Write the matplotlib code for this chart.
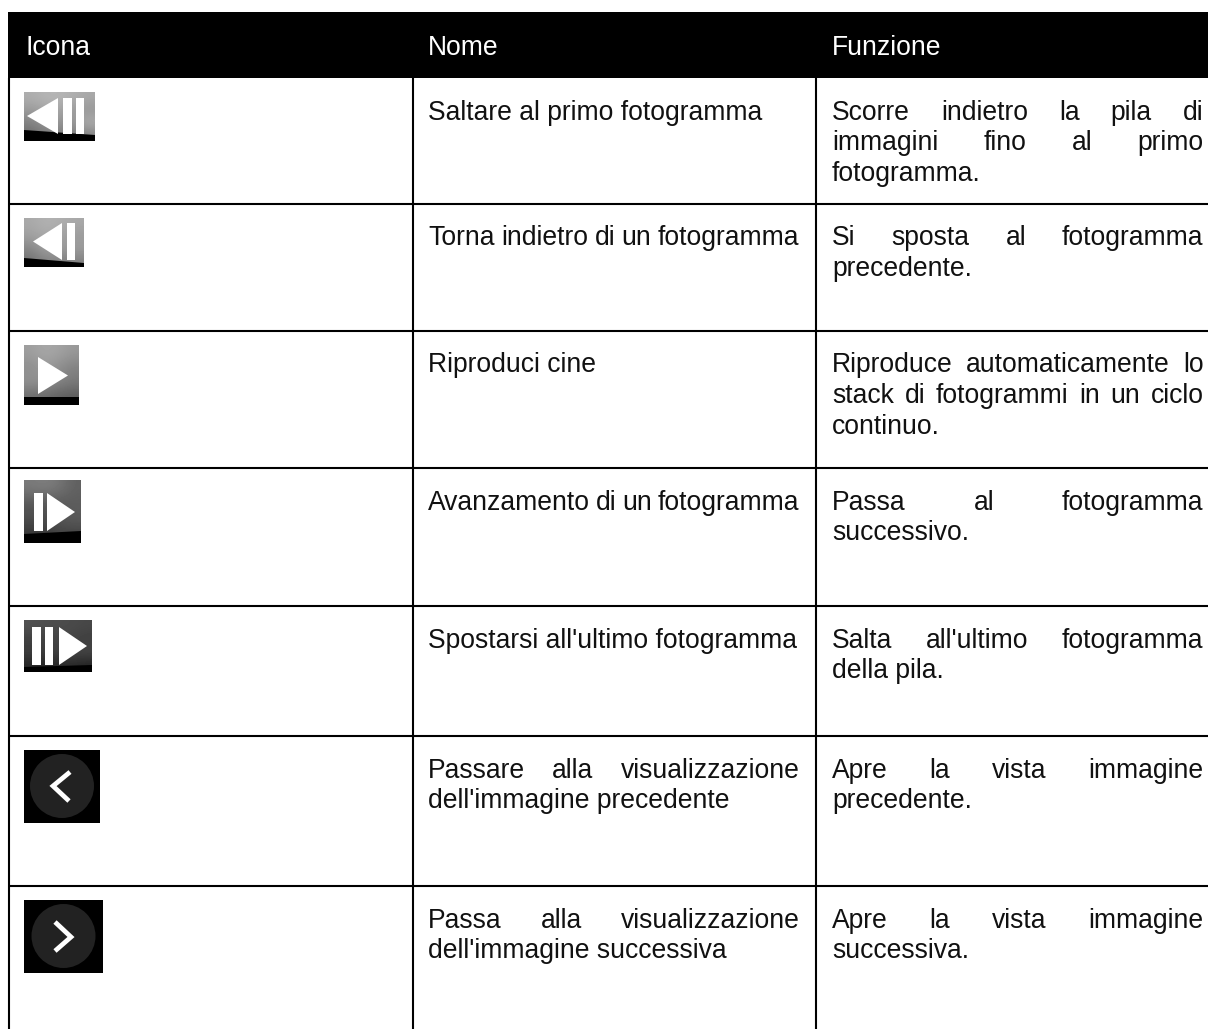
import matplotlib
matplotlib.use("Agg")
import matplotlib.pyplot as plt
import numpy as np
from matplotlib.patches import Circle, Polygon, Rectangle

plt.rcParams["font.family"] = ["Liberation Sans", "DejaVu Sans"]

W, H = 1208, 1029

headers = ["Icona", "Nome", "Funzione"]
icon_kinds = ["first", "prev", "play", "next", "last", "left", "right"]
names = [
    [("Saltare al primo fotogramma", False)],
    [("Torna indietro di un fotogramma", True)],
    [("Riproduci cine", False)],
    [("Avanzamento di un fotogramma", True)],
    [("Spostarsi all'ultimo fotogramma", False)],
    [("Passare alla visualizzazione", True), ("dell'immagine precedente", False)],
    [("Passa alla visualizzazione", True), ("dell'immagine successiva", False)],
]
functions = [
    [("Scorre indietro la pila di", True), ("immagini fino al primo", True), ("fotogramma.", False)],
    [("Si sposta al fotogramma", True), ("precedente.", False)],
    [("Riproduce automaticamente lo", True), ("stack di fotogrammi in un ciclo", True), ("continuo.", False)],
    [("Passa al fotogramma", True), ("successivo.", False)],
    [("Salta all'ultimo fotogramma", True), ("della pila.", False)],
    [("Apre la vista immagine", True), ("precedente.", False)],
    [("Apre la vista immagine", True), ("successiva.", False)],
]

# rough grey levels of the icon photos, top row first
shade_first = [[0.68, 0.72, 0.70, 0.66], [0.60, 0.66, 0.62, 0.58], [0.50, 0.62, 0.55, 0.70], [0.42, 0.50, 0.48, 0.50]]
shade_prev = [[0.66, 0.70, 0.68, 0.66], [0.62, 0.66, 0.62, 0.60], [0.52, 0.64, 0.60, 0.62], [0.44, 0.52, 0.50, 0.50]]
shade_play = [[0.62, 0.66, 0.64, 0.60], [0.55, 0.60, 0.56, 0.50], [0.58, 0.56, 0.52, 0.48], [0.40, 0.40, 0.36, 0.34]]
shade_next = [[0.48, 0.50, 0.46, 0.38], [0.34, 0.33, 0.34, 0.36], [0.30, 0.30, 0.34, 0.36], [0.20, 0.22, 0.25, 0.25]]
shade_last = [[0.32, 0.30, 0.30, 0.28], [0.24, 0.26, 0.27, 0.24], [0.24, 0.24, 0.28, 0.28], [0.14, 0.14, 0.16, 0.12]]

row_lines = [78, 203.5, 331, 468, 606, 736, 886, 1029]
col_lines = [9, 413, 816]
name_box = (428, 799.5)
func_box = (832, 1203.5)
FS = 19.1
LINE = 30.7

fig = plt.figure(figsize=(W / 100, H / 100), dpi=100)
ax = fig.add_axes([0, 0, 1, 1])
ax.set_xlim(0, W)
ax.set_ylim(H, 0)
ax.axis("off")
renderer = fig.canvas.get_renderer()


def put_line(text, x0, x1, y, justify):
    if not justify:
        ax.text(x0, y, text, fontsize=FS, color="#111111", va="baseline")
        return
    words = text.split()
    widths = []
    for w in words:
        t = ax.text(0, 0, w, fontsize=FS)
        widths.append(t.get_window_extent(renderer).width)
        t.remove()
    gap = (x1 - x0 - sum(widths)) / (len(words) - 1)
    x = x0
    for w, wd in zip(words, widths):
        ax.text(x, y, w, fontsize=FS, color="#111111", va="baseline")
        x += wd + gap


def bars_tri(box, shade, strip, tip, base, tri_y, bars):
    x0, y0, x1, y1 = box
    ax.imshow(np.array(shade), cmap="gray", vmin=0, vmax=1, extent=(x0, x1, y1, y0),
              aspect="auto", interpolation="bicubic", zorder=2)
    ax.set_xlim(0, W)
    ax.set_ylim(H, 0)
    ax.add_patch(Polygon([(x0, strip[0]), (x1, strip[1]), (x1, y1), (x0, y1)], fc="black", ec="none", zorder=3))
    mid = (tri_y[0] + tri_y[1]) / 2
    ax.add_patch(Polygon([(tip, mid), (base, tri_y[0]), (base, tri_y[1])], fc="white", ec="none", zorder=4))
    for a, b in bars:
        ax.add_patch(Rectangle((a, tri_y[0]), b - a, tri_y[1] - tri_y[0], fc="white", ec="none", zorder=4))


def draw_icon(kind):
    if kind == "first":
        bars_tri((24, 92, 95, 141), shade_first, (130, 135), 27, 58, (98, 134), [(63, 72), (76, 84)])
    elif kind == "prev":
        bars_tri((24, 218, 84, 267), shade_prev, (258, 263), 33, 62, (223, 260), [(67, 75)])
    elif kind == "play":
        bars_tri((24, 345, 79, 405), shade_play, (397, 397), 68, 38, (357, 394), [])
    elif kind == "next":
        bars_tri((24, 480, 81, 543), shade_next, (534, 531), 75, 47, (493, 531), [(34, 43)])
    elif kind == "last":
        bars_tri((24, 620, 92, 672), shade_last, (667, 665), 87, 59, (627, 665), [(32, 41), (45, 53)])
    else:
        if kind == "left":
            box, cx, cy = (24, 750, 100, 823), 62, 786
            pts = [(70, 772), (53, 786), (69, 801)]
        else:
            box, cx, cy = (24, 900, 103, 973), 63.5, 936
            pts = [(55, 922), (71, 937), (55, 951)]
        ax.add_patch(Rectangle(box[:2], box[2] - box[0], box[3] - box[1], fc="black", ec="none", zorder=2))
        ax.add_patch(Circle((cx, cy), 32, fc="#222222", ec="none", zorder=3))
        xs, ys = zip(*pts)
        ax.plot(xs, ys, color="white", lw=3.4, solid_capstyle="butt", solid_joinstyle="miter", zorder=4)


# table frame
ax.add_patch(Rectangle((8, 12), W - 8, 66, fc="black", ec="none", zorder=5))
for y in row_lines[1:-1]:
    ax.plot([8, W], [y, y], color="black", lw=1.5, solid_capstyle="butt")
for x in col_lines:
    ax.plot([x, x], [78, H], color="black", lw=1.5, solid_capstyle="butt")

for h, x in zip(headers, [25, 428, 832]):
    ax.text(x, 55, h, fontsize=FS, color="white", va="baseline", zorder=6)

for i, kind in enumerate(icon_kinds):
    draw_icon(kind)
    base_y = row_lines[i] + 41.5
    for j, (txt, just) in enumerate(names[i]):
        put_line(txt, name_box[0], name_box[1], base_y + j * LINE, just)
    for j, (txt, just) in enumerate(functions[i]):
        put_line(txt, func_box[0], func_box[1], base_y + j * LINE, just)

fig.savefig("out.png", dpi=100)
